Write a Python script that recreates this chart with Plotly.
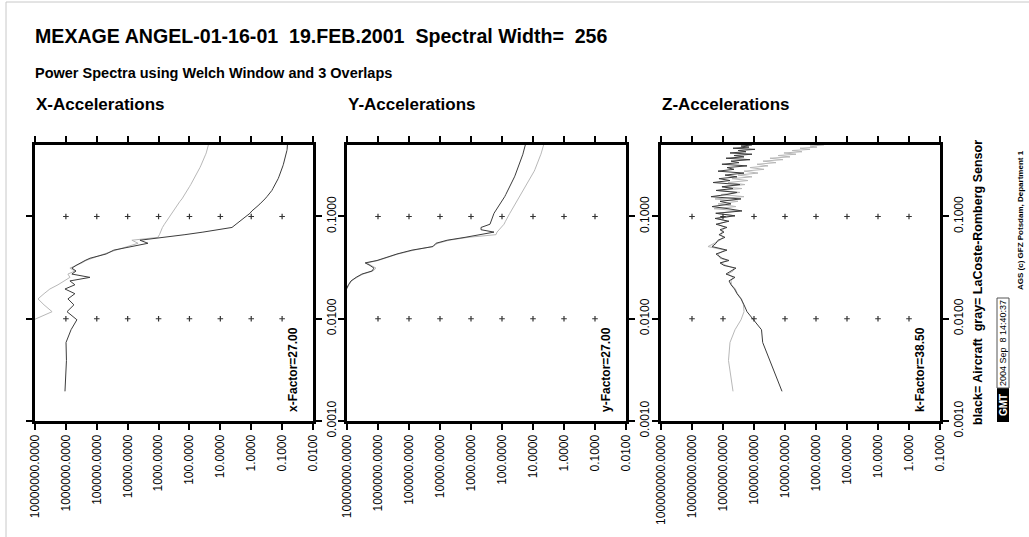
import plotly.graph_objects as go
import math

# ---------------- data ----------------
FREQ = [0.00195, 0.00391, 0.00586, 0.00781, 0.00977, 0.01172, 0.01367, 0.01563, 0.01758, 0.01953,
        0.02148, 0.02344, 0.02539, 0.02734, 0.02930, 0.03125, 0.03320, 0.03516, 0.03711, 0.03906,
        0.04297, 0.04688, 0.05078, 0.05469, 0.05859, 0.0625, 0.06641, 0.07031, 0.07422, 0.07813,
        0.08398, 0.08984, 0.09570, 0.10156, 0.10742, 0.11328, 0.11914, 0.125,
        0.13281, 0.14063, 0.14844, 0.15625, 0.16406, 0.17188, 0.17969, 0.1875, 0.19531,
        0.20508, 0.21484, 0.22461, 0.23438, 0.24414, 0.25391,
        0.26563, 0.27734, 0.28906, 0.30078, 0.3125, 0.32422, 0.33594, 0.34766, 0.35938, 0.37109,
        0.38281, 0.39453, 0.40625, 0.41797, 0.42969, 0.44141, 0.45313, 0.46484, 0.47656, 0.48828, 0.5]

X_AIRCRAFT = [1.07e6, 9.6e5, 9.9e5, 6.8e5, 4.4e5, 9.2e5, 5.5e5, 8.6e5, 5.1e5, 1.07e6,
              5.1e5, 7.4e5, 1.66e5, 6.4e5, 4.7e5, 6.4e5, 4.7e5, 3.5e5, 2.4e5, 1.66e5,
              5.0e4, 2.8e4, 8.4e3, 2.2e3, 4.0e3, 620, 140, 36.6, 12, 4.2,
              3.1, 2.3, 1.72, 1.38, 1.10, 0.95, 0.76, 0.65,
              0.52, 0.42, 0.36, 0.31, 0.267, 0.239, 0.214, 0.199, 0.184,
              0.165, 0.153, 0.142, 0.134, 0.127, 0.120,
              0.1135, 0.1077, 0.103, 0.0986, 0.0942, 0.0908, 0.0875, 0.0849, 0.0824, 0.080,
              0.0776, 0.0753, 0.0736, 0.0721, 0.0710, 0.070, 0.0689, 0.0684, 0.0679, 0.0673, 0.0673]
X_LACOSTE = [2.0e7, 4.0e7, 3.0e7, 1.5e7, 1.1e7, 2.8e6, 5.1e6, 8.0e6, 5.1e6, 3.3e6,
             1.8e6, 1.07e6, 7.4e5, 8.6e5, 5.1e5, 7.4e5, 4.4e5, 3.0e5, 2.24e5, 1.43e5,
             5.8e4, 2.4e4, 9.8e3, 4.6e3, 7.3e3, 1.05e3, 935, 870, 806, 748,
             645, 555, 478, 428, 383, 342, 306, 273,
             236, 203, 175, 156, 140, 125, 116, 108, 100,
             90.8, 83, 77, 70.5, 65.5, 60.7,
             56, 51.9, 48.5, 45.7, 43.1, 40.6, 38.5, 36.6, 35, 33.4,
             32, 30.8, 29.7, 28.6, 27.7, 26.9, 26.3, 25.8, 25.2, 24.8, 24.4]

Y_AIRCRAFT = [5e7, 6e7, 5e7, 3.5e7, 4e7, 3e7, 2.5e7, 2e7, 1.35e7, 1.04e7,
              9.0e6, 7.4e6, 5.1e6, 3.3e6, 1.56e6, 1.35e6, 1.81e6, 2.6e6, 1.08e6, 6.4e5,
              2.44e5, 8.0e4, 1.68e4, 1.35e4, 5.9e3, 1560, 552, 181, 475, 475,
              244, 226, 213, 198, 181, 162, 145, 127,
              111, 100, 90, 81.8, 75.4, 69.5, 64.5, 59.8, 56,
              52, 48.3, 45.2, 42.3, 39.5, 37.5,
              35.3, 33.3, 31.6, 30.3, 28.7, 27.5, 26.3, 25.3, 24.4, 23.5,
              22.7, 21.8, 21.2, 20.7, 20.2, 19.7, 19.2, 18.8, 18.4, 18.1, 17.7]
Y_LACOSTE = [5.3e7, 6.2e7, 5.2e7, 3.6e7, 4.2e7, 3.2e7, 2.6e7, 2.1e7, 1.4e7, 1.04e7,
             8.6e6, 7.2e6, 4.75e6, 3.05e6, 1.45e6, 1.16e6, 1.68e6, 2.26e6, 1.0e6, 5.9e5,
             2.26e5, 6.9e4, 1.81e4, 1.16e4, 5.1e3, 1250, 156, 145, 125, 108,
             86.1, 77.1, 70.0, 62.7, 56.0, 50.5, 45.8, 42.0,
             37.0, 32.8, 29.4, 26.5, 24.0, 21.8, 20.0, 18.4, 16.9,
             15.5, 14.2, 13.1, 12.1, 11.3, 10.5,
             9.78, 9.14, 8.61, 8.13, 7.71, 7.33, 6.95, 6.65, 6.40, 6.17,
             5.94, 5.72, 5.56, 5.40, 5.24, 5.13, 4.98, 4.86, 4.76, 4.65, 4.55]

Z_AIRCRAFT = [1.25e4, 3.09e4, 5.24e4, 5.73e4, 1.0e5, 1.68e5, 2.1e5, 2.62e5, 3.53e5, 4.26e5,
              5.5e5, 6.40e5, 4.10e5, 8.0e5, 5.52e5, 3.81e5, 9.29e5, 1.25e6, 6.40e5, 1.08e6,
              1.68e6, 7.43e5, 2.26e6, 1.68e6, 1.45e6, 8.62e5, 1.35e6, 9.29e5, 1.25e6, 7.43e5,
              1.68e6, 6.40e5, 1.81e6, 4.10e5, 1.68e6, 2.44e5, 6.9e5, 2.26e6,
              5.52e5, 1.25e6, 2.63e5, 2.44e6, 7.43e5, 3.53e5, 1.68e6, 4.75e5, 1.08e6,
              2.83e5, 2.10e6, 5.94e5, 1.35e6, 3.53e5, 8.62e5,
              2.10e5, 1.45e6, 4.42e5, 7.43e5, 1.68e5, 1.08e6, 3.05e5, 5.52e5, 1.35e5, 8.0e5,
              2.10e5, 4.42e5, 1.16e5, 5.94e5, 1.81e5, 3.28e5, 9.29e4, 4.75e5, 1.45e5, 2.63e5, 1.16e5]
Z_LACOSTE = [4.75e5, 6.65e5, 5.95e5, 4.1e5, 2.62e5, 2.1e5, 2.18e5, 2.53e5, 3.4e5, 4.0e5,
             5.3e5, 5.52e5, 4.75e5, 6.9e5, 4.75e5, 4.42e5, 8.0e5, 1.16e6, 7.43e5, 1.25e6,
             1.45e6, 8.62e5, 3.05e6, 1.95e6, 1.25e6, 1.0e6, 1.16e6, 1.08e6, 1.0e6, 8.62e5,
             1.45e6, 7.43e5, 1.56e6, 4.10e5, 1.81e6, 2.83e5, 1.95e6, 3.81e5,
             1.45e6, 3.28e5, 1.81e6, 2.10e5, 1.16e6, 2.83e5, 1.45e6, 2.44e5, 1.08e6,
             1.95e5, 6.9e5, 1.56e5, 5.13e5, 1.16e5, 3.28e5,
             7.43e4, 2.10e5, 4.75e4, 1.35e5, 3.53e4, 8.0e4, 1.95e4, 5.13e4, 1.16e4, 3.05e4,
             6.90e3, 1.68e4, 4.42e3, 1.08e4, 2.83e3, 5.95e3, 1.56e3, 3.28e3, 929, 1.56e3, 552]

PANEL_TITLES = ["X-Accelerations", "Y-Accelerations", "Z-Accelerations"]
FACTOR_LABELS = ["x-Factor=27.00", "y-Factor=27.00", "k-Factor=38.50"]
POWER_TICKS_XY = [1e7, 1e6, 1e5, 1e4, 1e3, 1e2, 1e1, 1e0, 1e-1, 1e-2]
POWER_TICKS_Z = [1e8, 1e7, 1e6, 1e5, 1e4, 1e3, 1e2, 1e1, 1e0, 1e-1]
FREQ_TICKS = [0.001, 0.01, 0.1]
FREQ_DOT_ROWS = [0.01, 0.1]
FREQ_MAX = 0.5

SERIES = [(X_AIRCRAFT, X_LACOSTE, POWER_TICKS_XY),
          (Y_AIRCRAFT, Y_LACOSTE, POWER_TICKS_XY),
          (Z_AIRCRAFT, Z_LACOSTE, POWER_TICKS_Z)]

# ---------------- layout helpers ----------------
W, H = 1029, 537
FONT = "Liberation Sans, Arial, Helvetica, sans-serif"
PX = lambda p: p / W
PY = lambda p: 1 - p / H
PANEL_X = [(35, 313), (347, 626), (661, 940)]
PANEL_Y = (145, 421)

fig = go.Figure()
layout = dict(template="none", width=W, height=H, margin=dict(l=0, r=0, t=0, b=0, pad=0),
              autosize=False,
              paper_bgcolor="white", plot_bgcolor="white", showlegend=False,
              font=dict(family=FONT, color="black"))
annotations = []
shapes = []

for i, (black, gray, pticks) in enumerate(SERIES):
    n = "" if i == 0 else str(i + 1)
    xa, ya = "x" + n, "y" + n
    # gray (LaCoste-Romberg) first, black (aircraft) on top
    fig.add_trace(go.Scatter(x=gray, y=FREQ, xaxis=xa, yaxis=ya, mode="lines",
                             line=dict(color="#b8b8b8", width=1)))
    fig.add_trace(go.Scatter(x=black, y=FREQ, xaxis=xa, yaxis=ya, mode="lines",
                             line=dict(color="#3c3c3c", width=1)))
    inner = pticks[1:-1]
    dx = [p for p in inner for _ in FREQ_DOT_ROWS]
    dy = [f for _ in inner for f in FREQ_DOT_ROWS]
    fig.add_trace(go.Scatter(x=dx, y=dy, xaxis=xa, yaxis=ya, mode="markers",
                             marker=dict(symbol="cross-thin", size=4, color="#333",
                                         line=dict(width=1.2, color="#333"))))
    x0, x1 = PANEL_X[i]
    layout["xaxis" + n] = dict(
        domain=[PX(x0), PX(x1)], anchor=ya, type="log", automargin=False,
        range=[math.log10(pticks[0]), math.log10(pticks[-1])],
        tickvals=pticks, ticktext=[f"{v:.4f}" for v in pticks], tickangle=-90,
        ticks="outside", ticklen=6, tickwidth=1.5, tickcolor="black",
        showline=True, linewidth=3, linecolor="black", mirror="ticks",
        showgrid=False, zeroline=False, tickfont=dict(size=12, family=FONT))
    layout["yaxis" + n] = dict(
        domain=[PY(PANEL_Y[1]), PY(PANEL_Y[0])], anchor=xa, side="right", type="log",
        automargin=False,
        range=[math.log10(FREQ_TICKS[0]), math.log10(FREQ_MAX)],
        tickvals=FREQ_TICKS, ticktext=[f"{v:.4f}" for v in FREQ_TICKS], tickangle=-90,
        ticks="outside", ticklen=6, tickwidth=1.5, tickcolor="black",
        showline=True, linewidth=3, linecolor="black", mirror="ticks",
        showgrid=False, zeroline=False, tickfont=dict(size=12, family=FONT))
    annotations.append(dict(xref="paper", yref="paper", x=PX(x0 - 1), y=PY(104),
                            xanchor="left", yanchor="middle", showarrow=False,
                            text="<b>" + PANEL_TITLES[i] + "</b>", font=dict(size=17)))
    annotations.append(dict(xref="paper", yref="paper", x=PX(x1 - 20), y=PY(370),
                            xanchor="center", yanchor="middle", showarrow=False, textangle=-90,
                            text="<b>" + FACTOR_LABELS[i] + "</b>", font=dict(size=12)))

annotations += [
    dict(xref="paper", yref="paper", x=PX(33), y=PY(36), xanchor="left", yanchor="middle",
         showarrow=False, font=dict(size=19.6),
         text="<b>MEXAGE ANGEL-01-16-01\u00a0\u00a019.FEB.2001\u00a0\u00a0Spectral Width=\u00a0\u00a0256</b>"),
    dict(xref="paper", yref="paper", x=PX(33), y=PY(73), xanchor="left", yanchor="middle",
         showarrow=False, font=dict(size=14.5),
         text="<b>Power Spectra using Welch Window and 3 Overlaps</b>"),
    dict(xref="paper", yref="paper", x=PX(978), y=PY(283), xanchor="center", yanchor="middle",
         showarrow=False, textangle=-90, font=dict(size=12.5),
         text="<b>black= Aircraft\u00a0\u00a0gray= LaCoste-Romberg Sensor</b>"),
    dict(xref="paper", yref="paper", x=PX(1003), y=PY(405), xanchor="center", yanchor="middle",
         showarrow=False, textangle=-90, font=dict(size=10, color="white"), text="<b>GMT</b>"),
    dict(xref="paper", yref="paper", x=PX(1003), y=PY(343), xanchor="center", yanchor="middle",
         showarrow=False, textangle=-90, font=dict(size=9),
         text="2004 Sep\u00a0\u00a08 14:40:37"),
    dict(xref="paper", yref="paper", x=PX(1020), y=PY(220), xanchor="center", yanchor="middle",
         showarrow=False, textangle=-90, font=dict(size=8),
         text="<b>AGS (c) GFZ Potsdam, Department 1</b>"),
]

shapes += [
    dict(type="rect", xref="paper", yref="paper", x0=PX(997), x1=PX(1009), y0=PY(422), y1=PY(388),
         fillcolor="black", line=dict(width=0)),
    dict(type="rect", xref="paper", yref="paper", x0=PX(997), x1=PX(1009), y0=PY(388), y1=PY(298),
         fillcolor="white", line=dict(width=1, color="#555")),
    dict(type="line", xref="paper", yref="paper", x0=PX(6), x1=PX(6), y0=0, y1=PY(2),
         line=dict(width=1, color="#c8c8c8")),
    dict(type="line", xref="paper", yref="paper", x0=PX(6), x1=1, y0=PY(2), y1=PY(2),
         line=dict(width=1, color="#c8c8c8")),
]

layout["annotations"] = annotations
layout["shapes"] = shapes
fig.update_layout(**layout)
fig.write_html(
    "out.html",
    config={"displayModeBar": False, "responsive": False},
    post_script="document.body.style.margin='0';document.body.style.padding='0';"
                "document.documentElement.style.overflow='hidden';",
)
